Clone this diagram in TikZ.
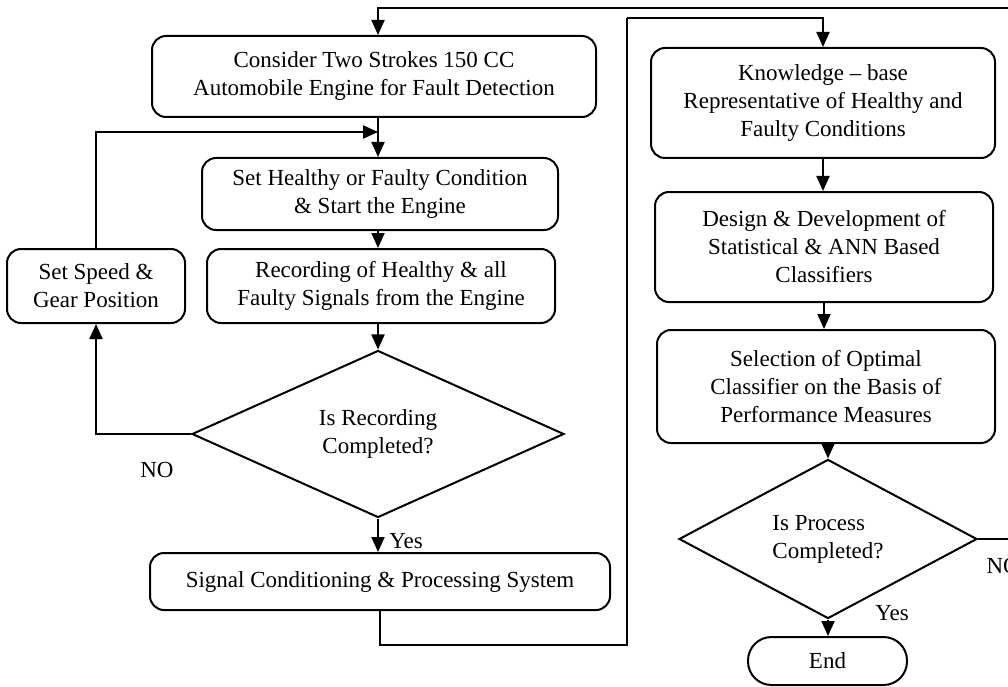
\documentclass[tikz,border=0pt]{standalone}
\usepackage{fontspec}
\setmainfont{Liberation Serif}
\usetikzlibrary{arrows.meta,shapes.geometric}

\begin{document}
\begin{tikzpicture}[x=1pt,y=-1pt,
    every node/.style={font=\fontsize{23}{28}\selectfont},
    stepbox/.style={draw,rounded corners=14pt,line width=2pt,align=center,inner sep=0pt},
    decision/.style={draw,diamond,line width=2pt,inner sep=0pt},
    flow/.style={line width=2pt,-{Triangle[length=15pt,width=13pt]}},
    link/.style={line width=2pt}]
\useasboundingbox (0,0) rectangle (1008,687);
\clip (0,0) rectangle (1008,687);
% left column
\node[stepbox,minimum width=444,minimum height=81] (consider) at (374,76.5)
    {Consider Two Strokes 150 CC\\Automobile Engine for Fault Detection};
\node[stepbox,minimum width=356,minimum height=72] (setcond) at (380,194)
    {Set Healthy or Faulty Condition\\\& Start the Engine};
\node[stepbox,minimum width=348,minimum height=74] (record) at (381,286)
    {Recording of Healthy \& all\\Faulty Signals from the Engine};
\node[stepbox,minimum width=178,minimum height=74] (speed) at (96,286)
    {Set Speed \&\\Gear Position};
\node[decision,minimum width=372,minimum height=128,align=center] (isrec) at (378,434)
    {Is Recording\\Completed?};
\node[stepbox,minimum width=460,minimum height=57] (signal) at (380,581.5)
    {Signal Conditioning \& Processing System};
% right column
\node[stepbox,minimum width=344,minimum height=110] (knowledge) at (823,103)
    {Knowledge -- base\\Representative of Healthy and\\Faulty Conditions};
\node[stepbox,minimum width=338,minimum height=110] (design) at (824,247)
    {Design \& Development of\\Statistical \& ANN Based\\Classifiers};
\node[stepbox,minimum width=338,minimum height=113] (select) at (826,386.5)
    {Selection of Optimal\\Classifier on the Basis of\\Performance Measures};
\node[decision,minimum width=298,minimum height=122,align=left] (isproc) at (828,539)
    {Is Process\\Completed?};
\node[stepbox,rounded corners=23.5pt,minimum width=159,minimum height=48] (finish) at (827.5,661)
    {End};
% labels
\node (norec) at (157,470) {NO};
\node (yesrec) at (406,541) {Yes};
\node (yesproc) at (892,613) {Yes};
\node[anchor=west] (noproc) at (983,566) {NO};
% corners of the loops
\coordinate (join) at (378,132);
\coordinate (low) at (380,645);
\coordinate (mid) at (627,645);
\coordinate (midtop) at (627,18);
\coordinate (edge) at (1030,539);
\coordinate (top) at (1030,8);
% connectors
\draw[flow] (consider.south -| join) -- (setcond.north -| join);
\draw[flow] (speed.north) |- (join);
\draw[flow] (setcond.south -| join) -- (record.north -| join);
\draw[flow] (record.south -| join) -- (isrec.north);
\draw[flow] (isrec.west) -| (speed.south);
\draw[flow] (isrec.south) -- (signal.north -| isrec.south);
\draw[link] (signal.south -| low) -- (low) -- (mid) -- (midtop);
\draw[flow] (midtop) -| (knowledge.north);
\draw[flow] (knowledge.south) -- (design.north -| knowledge.south);
\draw[flow] (design.south) -- (select.north -| design.south);
\draw[flow] (select.south -| isproc.north) -- (isproc.north);
\draw[flow] (isproc.south) -- (finish.north -| isproc.south);
\draw[link] (isproc.east) -- (edge) -- (top);
\draw[flow] (top) -| (consider.north -| join);
\end{tikzpicture}
\end{document}
